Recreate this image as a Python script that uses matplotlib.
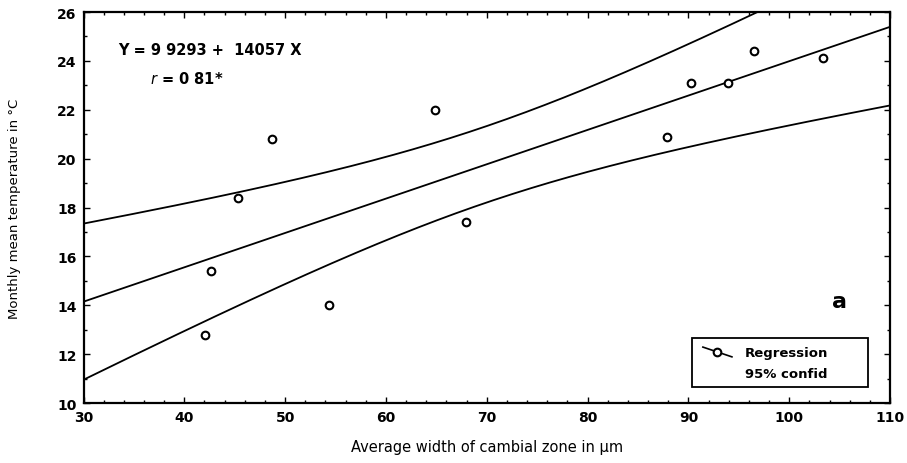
import numpy as np
import matplotlib
matplotlib.use("Agg")
import matplotlib.pyplot as plt
from matplotlib.lines import Line2D
from matplotlib.patches import Rectangle
from matplotlib.ticker import MultipleLocator

plt.rcParams['font.family'] = ['DejaVu Sans']

# Observations: cambial zone width (µm) vs monthly mean temperature (°C)
width_um = [42.1, 42.6, 45.3, 48.7, 54.4, 64.9, 67.9, 87.9, 90.3, 93.9, 96.5, 103.4]
temp_c = [12.8, 15.4, 18.4, 20.8, 14.0, 22.0, 17.4, 20.9, 23.1, 23.1, 24.4, 24.1]

# Fitted regression coefficients
intercept = 9.9293
slope = 0.14057
t_crit = 2.228  # Student t, 0.975 quantile, 10 degrees of freedom

x_ticks = list(range(30, 111, 10))
y_ticks = list(range(10, 27, 2))

x = np.asarray(width_um)
y = np.asarray(temp_c)
n = len(x)
resid = y - (intercept + slope * x)
s = np.sqrt(np.sum(resid ** 2) / (n - 2))
sxx = np.sum((x - x.mean()) ** 2)

xs = np.linspace(30, 110, 300)
fit = intercept + slope * xs
half = t_crit * s * np.sqrt(1.0 / n + (xs - x.mean()) ** 2 / sxx)

fig = plt.figure(figsize=(9.07, 4.64), dpi=100)
ax = fig.add_axes([83.5 / 907, 1 - 404 / 464, (890 - 83.5) / 907, (404 - 13) / 464])

lw = 1.3
ax.plot(xs, fit, color='black', lw=lw)
ax.plot(xs, fit + half, color='black', lw=lw)
ax.plot(xs, fit - half, color='black', lw=lw)
ax.plot(x, y, linestyle='none', marker='o', markersize=5.5,
        markerfacecolor='white', markeredgecolor='black', markeredgewidth=1.5)

ax.set_xlim(30, 110)
ax.set_ylim(10, 26)
ax.set_xticks(x_ticks)
ax.set_yticks(y_ticks)
ax.xaxis.set_minor_locator(MultipleLocator(2))
ax.yaxis.set_minor_locator(MultipleLocator(1))
ax.tick_params(which='both', direction='in', top=True, right=True, width=1.0)
ax.tick_params(which='major', length=4, labelsize=10, pad=5)
ax.tick_params(which='minor', length=2)
for lab in ax.get_xticklabels() + ax.get_yticklabels():
    lab.set_fontweight('bold')
for sp in ax.spines.values():
    sp.set_linewidth(1.6)

ax.set_xlabel('Average width of cambial zone in µm', fontsize=10.5)
ax.set_ylabel('Monthly mean temperature in °C', fontsize=9.5)
ax.xaxis.set_label_coords(0.5, -0.1125)
ax.xaxis.label.set_va('center')
ax.yaxis.set_label_coords(-0.085, 0.5)
ax.yaxis.label.set_va('center')

ax.text(0.043, 0.905, 'Y = 9 9293 +  14057 X', transform=ax.transAxes,
        fontsize=10.5, fontweight='bold', va='center')
ax.text(0.083, 0.83, r'$\mathbf{\mathit{r}}$' + ' = 0 81*', transform=ax.transAxes,
        fontsize=10.5, fontweight='bold', va='center')
ax.text(0.937, 0.26, 'a', transform=ax.transAxes, fontsize=16,
        fontweight='bold', ha='center', va='center')

# Legend box
ax.add_patch(Rectangle((0.754, 0.04), 0.219, 0.125, transform=ax.transAxes,
                       fill=False, edgecolor='black', lw=1.3))
ax.add_line(Line2D([0.768, 0.804], [0.143, 0.118], transform=ax.transAxes,
                   color='black', lw=1.2))
ax.add_line(Line2D([0.786], [0.130], transform=ax.transAxes, marker='o',
                   markersize=5.5, markerfacecolor='white',
                   markeredgecolor='black', markeredgewidth=1.5))
ax.text(0.82, 0.13, 'Regression', transform=ax.transAxes, fontsize=9.5,
        fontweight='bold', va='center')
ax.text(0.82, 0.076, '95% confid', transform=ax.transAxes, fontsize=9.5,
        fontweight='bold', va='center')

fig.savefig('out.png', dpi=100)
